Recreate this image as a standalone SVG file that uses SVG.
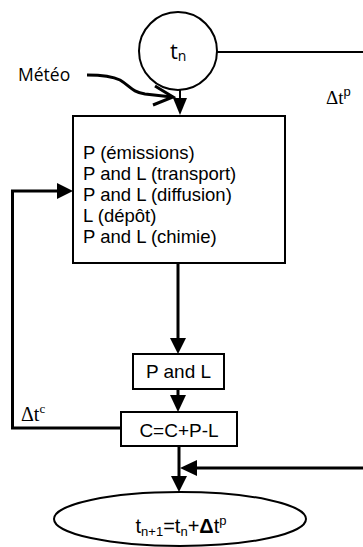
<svg xmlns="http://www.w3.org/2000/svg" width="363" height="547" viewBox="0 0 363 547">
<style>
.n{fill:#fff;stroke:#000;stroke-width:2}
.c{fill:none;stroke:#000;stroke-width:3}
.thin{fill:none;stroke:#000;stroke-width:2}
.ah{fill:#000;stroke:none}
.a{font-family:"Liberation Sans",Arial,sans-serif;fill:#000}
.o{font-family:"Open Sans","Noto Sans",sans-serif;fill:#000}
.s{font-family:"Liberation Serif","Times New Roman",serif;fill:#000}
</style>
<rect width="363" height="547" fill="#fff"/>
<g id="connectors">
  <line class="thin" x1="217" y1="52" x2="363" y2="52"/>
  <line class="thin" x1="180" y1="90" x2="180" y2="100"/>
  <polygon class="ah" points="173,98 187,98 180,115"/>
  <path class="c" d="M87,75 C100,75 112,76 120,80 C130,86 132,92 145,94 L172,97"/>
  <path class="c" d="M155,86 L173,97 L153,105"/>
  <line class="c" x1="178" y1="263" x2="178" y2="340"/>
  <polygon class="ah" points="170,338 186,338 178,354"/>
  <line class="c" x1="178" y1="389" x2="178" y2="397"/>
  <polygon class="ah" points="170,395 186,395 178,412"/>
  <polyline class="c" points="121,428 12.5,428 12.5,191 60,191"/>
  <polygon class="ah" points="57,183 73,191 57,199"/>
  <line class="c" x1="179" y1="446" x2="179" y2="478"/>
  <polygon class="ah" points="171,476 187,476 179,492"/>
  <line class="c" x1="363" y1="468" x2="195" y2="468"/>
  <polygon class="ah" points="197,460 197,476 180,468"/>
</g>
<g id="tn">
  <circle class="n" cx="178" cy="51" r="39"/>
  <text class="o" x="170" y="59" font-size="22">t<tspan font-size="14" dy="2">n</tspan></text>
</g>
<g id="meteo">
  <text class="o" x="18" y="81" font-size="17.5">Météo</text>
</g>
<g id="dtp">
  <text class="s" x="326" y="104" font-size="19">Δt<tspan font-size="13" dy="-8" font-family="Liberation Sans, sans-serif">p</tspan></text>
</g>
<g id="processes">
  <rect class="n" x="73" y="116" width="212" height="147"/>
  <text class="a" font-size="18.5">
    <tspan x="83" y="159">P (émissions)</tspan>
    <tspan x="83" y="180">P and L (transport)</tspan>
    <tspan x="83" y="201">P and L (diffusion)</tspan>
    <tspan x="83" y="222">L (dépôt)</tspan>
    <tspan x="83" y="243">P and L (chimie)</tspan>
  </text>
</g>
<g id="pl">
  <rect class="n" x="133" y="354" width="91" height="35"/>
  <text class="a" x="178.5" y="378" font-size="19" text-anchor="middle">P and L</text>
</g>
<g id="update">
  <rect class="n" x="121" y="412" width="116" height="34"/>
  <text class="a" x="179" y="437" font-size="19" text-anchor="middle">C=C+P-L</text>
</g>
<g id="dtc">
  <text class="s" x="21" y="421" font-size="20">Δt<tspan font-size="13" dy="-8">c</tspan></text>
</g>
<g id="next">
  <ellipse class="n" cx="180" cy="519" rx="126" ry="27"/>
  <text class="a" x="181" y="533" font-size="20" text-anchor="middle">t<tspan font-size="13" dy="3">n+1</tspan><tspan dy="-3">=t</tspan><tspan font-size="13" dy="3">n</tspan><tspan dy="-3">+</tspan><tspan font-weight="bold">Δ</tspan>t<tspan font-size="13" dy="-8">p</tspan></text>
</g>
</svg>
